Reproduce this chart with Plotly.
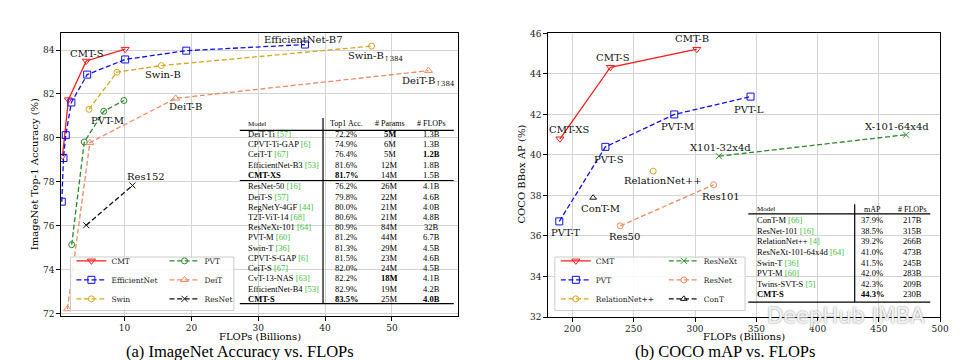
import plotly.graph_objects as go

W, H = 961, 360
def fx(p): return p / W
def fy(p): return 1 - p / H

SERIF = "DejaVu Serif"
TIMES = "Liberation Serif"
REFGREEN = "#3cbf3c"

# ---------------- data: ImageNet (left) ----------------
cmt_x = [0.71, 1.6, 4.27, 10.1]
cmt_y = [79.17, 81.74, 83.5, 84.04]
eff_x = [0.61, 0.86, 1.2, 2.04, 4.41, 10.09, 19.23, 37.0]
eff_y = [77.09, 79.08, 80.12, 81.61, 82.88, 83.57, 83.97, 84.25]
swin_x = [4.67, 8.86, 15.5, 46.98]
swin_y = [81.30, 82.99, 83.29, 84.18]
pvt_x = [2.09, 3.97, 6.89, 9.9]
pvt_y = [75.13, 79.81, 81.21, 81.70]
deit_x = [1.45, 4.81, 17.64, 55.48]
deit_y = [72.2, 79.78, 81.8, 83.06]
res_x = [4.27, 11.19]
res_y = [76.02, 77.83]

# ---------------- data: COCO (right) ----------------
c_cmt_x = [189.8, 231.0, 301.5]
c_cmt_y = [40.8, 44.33, 45.22]
c_pvt_x = [189.3, 226.9, 283.1, 345.3]
c_pvt_y = [36.72, 40.40, 42.0, 42.88]
c_rel_x = [265.9]
c_rel_y = [39.2]
c_rnx_x = [319.5, 472.2]
c_rnx_y = [39.94, 41.0]
c_res_x = [239.0, 315.2]
c_res_y = [36.5, 38.53]
c_cont_x = [216.9]
c_cont_y = [37.89]

# ---------------- table data ----------------
t1_head = ["Model", "Top1 Acc.", "# Params", "# FLOPs"]
t1_model = ["DeiT-Ti", "CPVT-Ti-GAP", "CeiT-T", "EfficientNet-B3", "CMT-XS",
            "ResNet-50", "DeiT-S", "RegNetY-4GF", "T2T-ViT-14", "ResNeXt-101",
            "PVT-M", "Swin-T", "CPVT-S-GAP", "CeiT-S", "CvT-13-NAS",
            "EfficientNet-B4", "CMT-S"]
t1_ref = ["57", "6", "67", "53", "", "16", "57", "44", "68", "64", "60", "36",
          "6", "67", "63", "53", ""]
t1_acc = ["72.2%", "74.9%", "76.4%", "81.6%", "81.7%", "76.2%", "79.8%", "80.0%",
          "80.6%", "80.9%", "81.2%", "81.3%", "81.5%", "82.0%", "82.2%", "82.9%", "83.5%"]
t1_params = ["5M", "6M", "5M", "12M", "14M", "26M", "22M", "21M", "21M", "84M",
             "44M", "29M", "23M", "24M", "18M", "19M", "25M"]
t1_flops = ["1.3B", "1.3B", "1.2B", "1.8B", "1.5B", "4.1B", "4.6B", "4.0B", "4.8B",
            "32B", "6.7B", "4.5B", "4.6B", "4.5B", "4.1B", "4.2B", "4.0B"]
t1_bold = {(4, 0), (4, 1), (0, 2), (2, 3), (16, 0), (16, 1), (16, 3), (14, 2)}

t2_head = ["Model", "mAP", "# FLOPs"]
t2_model = ["ConT-M", "ResNet-101", "RelationNet++", "ResNeXt-101-64x4d", "Swin-T",
            "PVT-M", "Twins-SVT-S", "CMT-S"]
t2_ref = ["66", "16", "4", "64", "36", "60", "5", ""]
t2_map = ["37.9%", "38.5%", "39.2%", "41.0%", "41.5%", "42.0%", "42.3%", "44.3%"]
t2_flops = ["217B", "315B", "266B", "473B", "245B", "283B", "209B", "230B"]
t2_bold = {(7, 0), (7, 1)}

RED, BLUE, GOLD, GREEN, SALMON, BLACK = "#ff1a1a", "#1010e8", "#daa520", "#2a8a2a", "#ef8a62", "#111111"
DASH = "5px,2.6px"

fig = go.Figure()

def add_series(x, y, name, color, symbol, dash, xa, ya, legend, msize=7):
    fig.add_trace(go.Scatter(
        x=x, y=y, name=name, mode="lines+markers",
        line=dict(color=color, width=1.3, dash=dash),
        marker=dict(symbol=symbol, size=msize, color=color,
                    line=dict(color=color, width=1)),
        xaxis=xa, yaxis=ya, legend=legend))

add_series(cmt_x, cmt_y, "CMT", RED, "triangle-down-open", "solid", "x", "y", "legend")
add_series(eff_x, eff_y, "EfficientNet", BLUE, "square-open", DASH, "x", "y", "legend")
add_series(swin_x, swin_y, "Swin", GOLD, "circle-open", DASH, "x", "y", "legend", 6)
add_series(pvt_x, pvt_y, "PVT", GREEN, "circle-open", DASH, "x", "y", "legend2", 6)
add_series(deit_x, deit_y, "DeiT", SALMON, "triangle-up-open", DASH, "x", "y", "legend2")
add_series(res_x, res_y, "ResNet", BLACK, "x-thin", DASH, "x", "y", "legend2", 6)

add_series(c_cmt_x, c_cmt_y, "CMT", RED, "triangle-down-open", "solid", "x2", "y2", "legend3")
add_series(c_pvt_x, c_pvt_y, "PVT", BLUE, "square-open", DASH, "x2", "y2", "legend3")
add_series(c_rel_x, c_rel_y, "RelationNet++", GOLD, "circle-open", DASH, "x2", "y2", "legend3", 6)
add_series(c_rnx_x, c_rnx_y, "ResNeXt", GREEN, "x-thin", DASH, "x2", "y2", "legend4", 6)
add_series(c_res_x, c_res_y, "ResNet", SALMON, "circle-open", DASH, "x2", "y2", "legend4", 6)
add_series(c_cont_x, c_cont_y, "ConT", BLACK, "triangle-up-open", DASH, "x2", "y2", "legend4", 6)

axis_common = dict(showgrid=True, gridcolor="#d4d4d4", gridwidth=1, showline=True,
                   mirror=True, linecolor="black", linewidth=1.2, ticks="outside",
                   ticklen=3.5, tickwidth=1, tickcolor="black", zeroline=False,
                   tickfont=dict(family=SERIF, size=9, color="#222"))

leg_common = dict(bgcolor="rgba(0,0,0,0)", borderwidth=0, xanchor="left", yanchor="top",
                  tracegroupgap=0, orientation="v",
                  font=dict(family=SERIF, size=7.5, color="#222"))

LEG_TOP = 240
fig.update_layout(
    width=W, height=H, autosize=False,
    margin=dict(l=0, r=0, t=0, b=0),
    paper_bgcolor="white", plot_bgcolor="white",
    xaxis=dict(domain=[fx(53.3), fx(454.3)], range=[0.46, 59.9],
               tickvals=[10, 20, 30, 40, 50], anchor="y", **axis_common),
    yaxis=dict(domain=[fy(311.7), fy(20.7)], range=[71.88, 84.77],
               tickvals=[72, 74, 76, 78, 80, 82, 84], anchor="x", **axis_common),
    xaxis2=dict(domain=[fx(545), fx(941)], range=[180, 500],
                tickvals=[200, 250, 300, 350, 400, 450, 500], anchor="y2", **axis_common),
    yaxis2=dict(domain=[fy(312.7), fy(21)], range=[32, 46],
                tickvals=[32, 34, 36, 38, 40, 42, 44, 46], anchor="x2", **axis_common),
    legend=dict(x=fx(64), y=fy(LEG_TOP), **leg_common),
    legend2=dict(x=fx(158), y=fy(LEG_TOP), **leg_common),
    legend3=dict(x=fx(553), y=fy(LEG_TOP), **leg_common),
    legend4=dict(x=fx(662), y=fy(LEG_TOP), **leg_common),
)

shapes = []
# legend frames
for x0, x1 in [(63, 228), (552, 744)]:
    shapes.append(dict(type="rect", xref="paper", yref="paper", x0=fx(x0), x1=fx(x1),
                       y0=fy(306), y1=fy(251), fillcolor="rgba(255,255,255,0.85)",
                       line=dict(color="#cccccc", width=1), layer="above"))

def hline(x0, x1, y):
    shapes.append(dict(type="line", xref="paper", yref="paper", x0=fx(x0), x1=fx(x1),
                       y0=fy(y), y1=fy(y), line=dict(color="black", width=1.2), layer="above"))

def vline(x, y0, y1):
    shapes.append(dict(type="line", xref="paper", yref="paper", x0=fx(x), x1=fx(x),
                       y0=fy(y0), y1=fy(y1), line=dict(color="black", width=1.2), layer="above"))

hline(234, 450, 120.7); hline(234, 450, 172.3); hline(234, 450, 299)
vline(318, 108, 299)
hline(747.3, 931, 206.7); hline(747.3, 931, 297.3)
vline(854.7, 196.7, 297.3)

ann = []
def txt(x, y, s, size=8.5, anchor="center", family=TIMES, **kw):
    ann.append(dict(x=fx(x), y=fy(y), xref="paper", yref="paper", text=s, showarrow=False,
                    xanchor=anchor, yanchor="middle",
                    font=dict(family=family, size=size, color="black"), **kw))

def model_text(name, ref, bold):
    s = f"<b>{name}</b>" if bold else name
    if ref:
        s += f' <span style="color:{REFGREEN}">[{ref}]</span>'
    return s

def cell(s, bold):
    return f"<b>{s}</b>" if bold else s

# left table
t1_cols = [240.7, 341.2, 385.5, 427.3]
txt(t1_cols[0], 114, t1_head[0], 7, "left")
for j in range(1, 4):
    txt(t1_cols[j], 114, t1_head[j], 8)
for i in range(len(t1_model)):
    yy = 124.8 + 10.35 * i if i < 5 else 178.3 + 10.52 * (i - 5)
    txt(t1_cols[0], yy, model_text(t1_model[i], t1_ref[i], (i, 0) in t1_bold), 8.5, "left")
    txt(t1_cols[1], yy, cell(t1_acc[i], (i, 1) in t1_bold))
    txt(t1_cols[2], yy, cell(t1_params[i], (i, 2) in t1_bold))
    txt(t1_cols[3], yy, cell(t1_flops[i], (i, 3) in t1_bold))

# right table
t2_cols = [754, 872.5, 913.5]
txt(t2_cols[0], 201.7, t2_head[0], 7, "left")
txt(t2_cols[1], 201.7, t2_head[1], 8)
txt(t2_cols[2], 201.7, t2_head[2], 8)
for i in range(len(t2_model)):
    yy = 213.3 + 10.85 * i
    txt(t2_cols[0], yy, model_text(t2_model[i], t2_ref[i], (i, 0) in t2_bold), 8.5, "left")
    txt(t2_cols[1], yy, cell(t2_map[i], (i, 1) in t2_bold))
    txt(t2_cols[2], yy, cell(t2_flops[i], (i, 2) in t2_bold))

# point labels (anchored to data points, pixel offsets)
left_labels = [
    ("CMT-S", cmt_x, cmt_y, 2, 1, 7.3, "center"),
    ("Swin-B", swin_x, swin_y, 2, 2, -9, "center"),
    ("DeiT-B", deit_x, deit_y, 2, 9.7, -8.3, "center"),
    ("PVT-M", pvt_x, pvt_y, 2, 3.3, -9, "center"),
    ("Res152", res_x, res_y, 1, 13.3, 9.3, "center"),
    ("EfficientNet-B7", eff_x, eff_y, 7, -2, 5.3, "center"),
    ("Swin-B<sub>↑384</sub>", swin_x, swin_y, 3, -25.3, -10, "left"),
    ("DeiT-B<sub>↑384</sub>", deit_x, deit_y, 3, -28.7, -10.7, "left"),
]
right_labels = [
    ("CMT-B", c_cmt_x, c_cmt_y, 2, -4.7, 10.3),
    ("CMT-S", c_cmt_x, c_cmt_y, 1, 2.7, 9.7),
    ("CMT-XS", c_cmt_x, c_cmt_y, 0, 9.2, 9.3),
    ("PVT-T", c_pvt_x, c_pvt_y, 0, 6.3, -11.4),
    ("PVT-S", c_pvt_x, c_pvt_y, 1, 3.4, -12.3),
    ("PVT-M", c_pvt_x, c_pvt_y, 2, 3, -11.7),
    ("PVT-L", c_pvt_x, c_pvt_y, 3, -2, -13),
    ("RelationNet++", c_rel_x, c_rel_y, 0, 9.3, -9.3),
    ("X101-32x4d", c_rnx_x, c_rnx_y, 0, 2, 8.3),
    ("X-101-64x4d", c_rnx_x, c_rnx_y, 1, -9.3, 8.3),
    ("ConT-M", c_cont_x, c_cont_y, 0, 7, -10.7),
    ("Res50", c_res_x, c_res_y, 0, 4.4, -11),
    ("Res101", c_res_x, c_res_y, 1, 7.3, -11.3),
]
for s, xs, ys, i, dx, dy, xa in left_labels:
    ann.append(dict(x=xs[i], y=ys[i], xref="x", yref="y", text=s, showarrow=False,
                    xanchor=xa, yanchor="middle", xshift=dx, yshift=dy,
                    font=dict(family=SERIF, size=10, color="#111")))
for s, xs, ys, i, dx, dy in right_labels:
    ann.append(dict(x=xs[i], y=ys[i], xref="x2", yref="y2", text=s, showarrow=False,
                    xanchor="center", yanchor="middle", xshift=dx, yshift=dy,
                    font=dict(family=SERIF, size=10, color="#111")))

# axis titles
txt(254, 333, "FLOPs (Billions)", 10, family=SERIF)
txt(743, 333, "FLOPs (Billions)", 10, family=SERIF)
txt(27, 166, "ImageNet Top-1 Accuracy (%)", 10, family=SERIF, textangle=-90)
txt(518, 166, "COCO BBox AP (%)", 10, family=SERIF, textangle=-90)
# captions
txt(234, 348.5, "(a) ImageNet Accuracy vs. FLOPs", 16.5)
txt(723.5, 348.5, "(b) COCO mAP vs. FLOPs", 16.5)
# watermark
ann.append(dict(x=fx(846), y=fy(312), xref="paper", yref="paper", text="DeepHub IMBA",
                showarrow=False, xanchor="center", yanchor="middle",
                font=dict(family="DejaVu Sans", size=21, color="rgba(255,255,255,0.9)",
                          shadow="0px 0px 2px #666")))

fig.update_layout(shapes=shapes, annotations=ann)
fig.write_html("out.html")
